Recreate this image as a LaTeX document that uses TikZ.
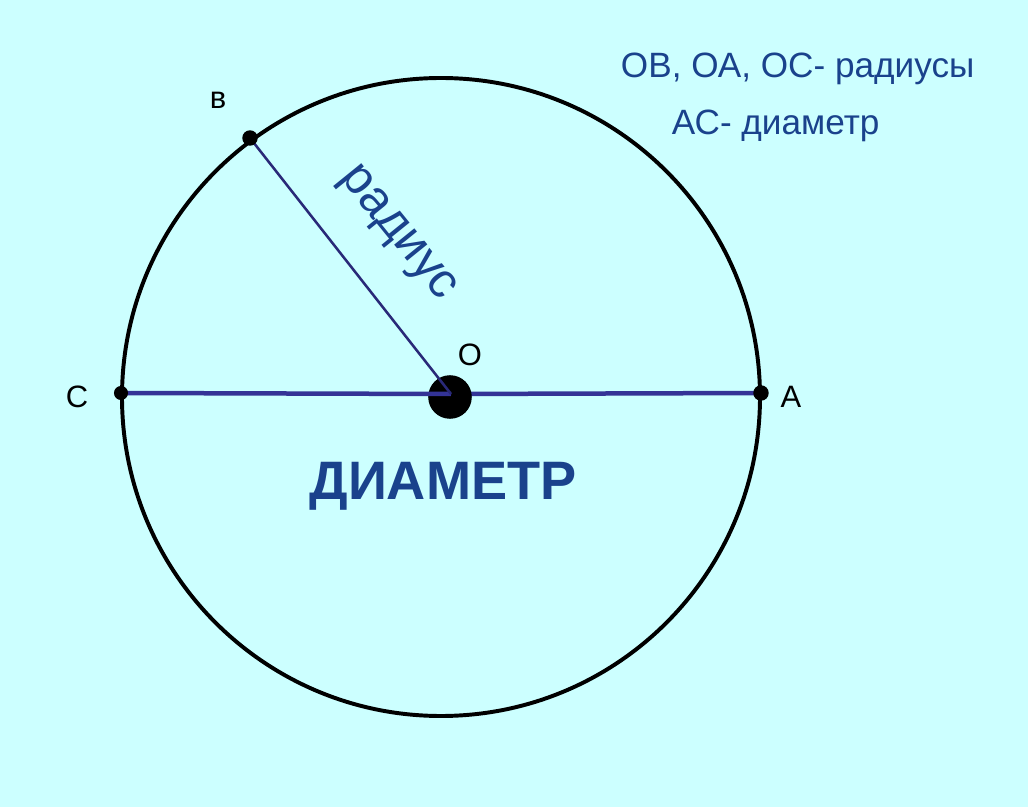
\documentclass[tikz,border=0pt]{standalone}
\usepackage{fontspec}
\setmainfont{Liberation Sans}
\usepackage{xcolor}
\usepackage{tikz}

\definecolor{fondo}{HTML}{CCFFFF}
\definecolor{texto}{RGB}{26,66,140}
\definecolor{linea}{RGB}{51,51,150}

\tikzset{
  punto/.style={circle, fill=black, inner sep=0pt, minimum size=#1},
  etiqueta/.style={font=\fontsize{22}{26}\selectfont, text=black},
  nota/.style={font=\fontsize{25}{30}\selectfont, text=texto, anchor=base west}
}

\begin{document}
\begin{tikzpicture}[x=0.025cm,y=-0.025cm]
\fill[fondo] (0,0) rectangle (1028,807);

\draw[line width=2.8pt] (441,397) circle [radius=319];

\coordinate (O) at (451,394);
\coordinate (A) at (761,393);
\coordinate (C) at (121,393);
\coordinate (B) at (250,138);

\draw[linea, line width=3.2pt] (O) -- (A);
\node[punto=31pt] (Odot) at (450,397) {};
\draw[linea, line width=3.2pt] (C) -- (O);
\draw[linea!80!black, line width=1.8pt] (B) -- (O);

\node[punto=11pt] (Bdot) at (B) {};
\node[punto=10pt] (Cdot) at (C) {};
\node[punto=11pt] (Adot) at (A) {};

\node[etiqueta] at (218,100) {в};
\node[etiqueta] at (470,355) {O};
\node[etiqueta] at (77,397) {C};
\node[etiqueta] at (791,397) {A};

\node[font=\fontsize{35}{40}\selectfont, text=texto, anchor=base, rotate=-51] at (390,240) {радиус};
\node[font=\fontsize{38.5}{44}\selectfont\bfseries, text=texto, anchor=base] at (443,499) {ДИАМЕТР};

\node[nota] at (616,78) {ОВ, ОА, ОС- радиусы};
\node[nota] at (667,135) {АС- диаметр};

\end{tikzpicture}
\end{document}
